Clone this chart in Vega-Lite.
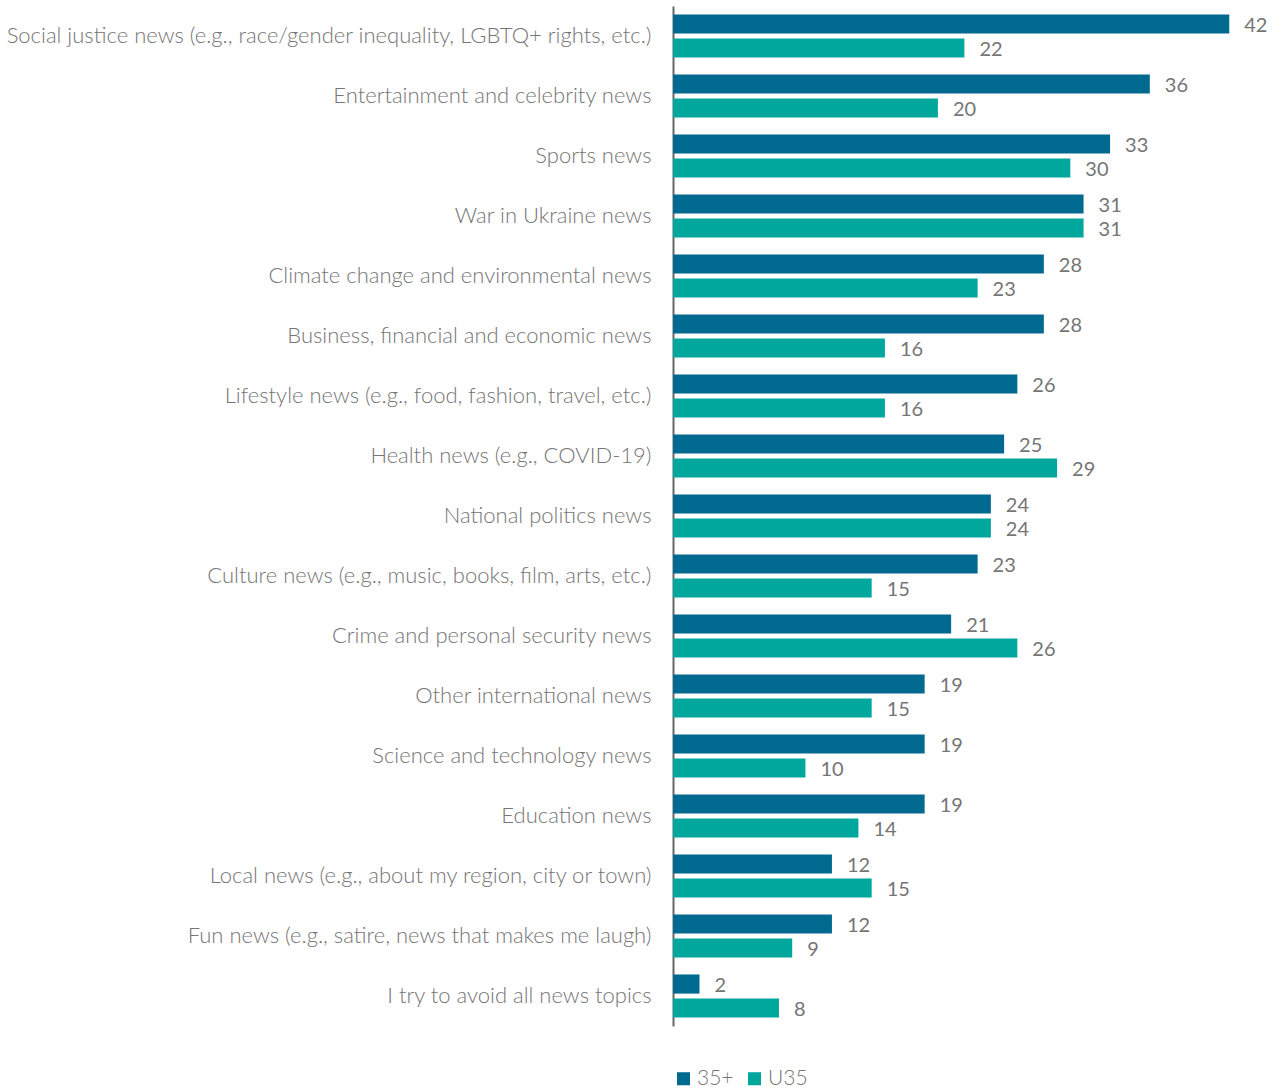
{
  "$schema": "https://vega.github.io/schema/vega-lite/v6.json",
  "width": 596,
  "height": 1020,
  "padding": {"left": 5, "top": 6, "right": 0, "bottom": 0},
  "config": {"view": {"stroke": null}, "font": "Lato"},
  "data": {"values": [
    {"topic": "Social justice news (e.g., race/gender inequality, LGBTQ+ rights, etc.)", "group": "35+", "value": 42},
    {"topic": "Social justice news (e.g., race/gender inequality, LGBTQ+ rights, etc.)", "group": "U35", "value": 22},
    {"topic": "Entertainment and celebrity news", "group": "35+", "value": 36},
    {"topic": "Entertainment and celebrity news", "group": "U35", "value": 20},
    {"topic": "Sports news", "group": "35+", "value": 33},
    {"topic": "Sports news", "group": "U35", "value": 30},
    {"topic": "War in Ukraine news", "group": "35+", "value": 31},
    {"topic": "War in Ukraine news", "group": "U35", "value": 31},
    {"topic": "Climate change and environmental news", "group": "35+", "value": 28},
    {"topic": "Climate change and environmental news", "group": "U35", "value": 23},
    {"topic": "Business, financial and economic news", "group": "35+", "value": 28},
    {"topic": "Business, financial and economic news", "group": "U35", "value": 16},
    {"topic": "Lifestyle news (e.g., food, fashion, travel, etc.)", "group": "35+", "value": 26},
    {"topic": "Lifestyle news (e.g., food, fashion, travel, etc.)", "group": "U35", "value": 16},
    {"topic": "Health news (e.g., COVID-19)", "group": "35+", "value": 25},
    {"topic": "Health news (e.g., COVID-19)", "group": "U35", "value": 29},
    {"topic": "National politics news", "group": "35+", "value": 24},
    {"topic": "National politics news", "group": "U35", "value": 24},
    {"topic": "Culture news (e.g., music, books, film, arts, etc.)", "group": "35+", "value": 23},
    {"topic": "Culture news (e.g., music, books, film, arts, etc.)", "group": "U35", "value": 15},
    {"topic": "Crime and personal security news", "group": "35+", "value": 21},
    {"topic": "Crime and personal security news", "group": "U35", "value": 26},
    {"topic": "Other international news", "group": "35+", "value": 19},
    {"topic": "Other international news", "group": "U35", "value": 15},
    {"topic": "Science and technology news", "group": "35+", "value": 19},
    {"topic": "Science and technology news", "group": "U35", "value": 10},
    {"topic": "Education news", "group": "35+", "value": 19},
    {"topic": "Education news", "group": "U35", "value": 14},
    {"topic": "Local news (e.g., about my region, city or town)", "group": "35+", "value": 12},
    {"topic": "Local news (e.g., about my region, city or town)", "group": "U35", "value": 15},
    {"topic": "Fun news (e.g., satire, news that makes me laugh)", "group": "35+", "value": 12},
    {"topic": "Fun news (e.g., satire, news that makes me laugh)", "group": "U35", "value": 9},
    {"topic": "I try to avoid all news topics", "group": "35+", "value": 2},
    {"topic": "I try to avoid all news topics", "group": "U35", "value": 8}
  ]},
  "encoding": {
    "y": {
      "field": "topic", "type": "nominal", "sort": null,
      "scale": {"paddingInner": 0.283, "paddingOuter": 0.1417},
      "axis": {"title": null, "ticks": false, "labelPadding": 22, "labelFontSize": 22, "labelFontWeight": 300, "labelColor": "#757575", "labelLimit": 0, "labelFont": "Lato", "domainColor": "#666666", "domainWidth": 2, "minExtent": 665, "maxExtent": 665}
    },
    "yOffset": {"field": "group", "type": "nominal", "sort": ["35+", "U35"], "scale": {"paddingInner": 0.2}},
    "x": {"field": "value", "type": "quantitative", "scale": {"domain": [0, 45]}, "axis": null}
  },
  "layer": [
    {
      "mark": {"type": "bar"},
      "encoding": {
        "color": {
          "field": "group", "type": "nominal",
          "scale": {"domain": ["35+", "U35"], "range": ["#006990", "#00a79d"]},
          "legend": {"title": null, "orient": "none", "legendX": 0, "legendY": 1062, "direction": "horizontal", "symbolType": "square", "symbolSize": 170, "symbolStrokeWidth": 0, "labelFontSize": 21, "labelFontWeight": 300, "labelColor": "#757575", "labelFont": "Lato", "columnPadding": 10, "labelOffset": 3}
        }
      }
    },
    {
      "mark": {"type": "text", "align": "left", "baseline": "middle", "dx": 15, "dy": 2, "fontSize": 20, "fontWeight": 400, "color": "#757575", "font": "Lato"},
      "encoding": {"text": {"field": "value", "type": "quantitative"}}
    }
  ]
}
